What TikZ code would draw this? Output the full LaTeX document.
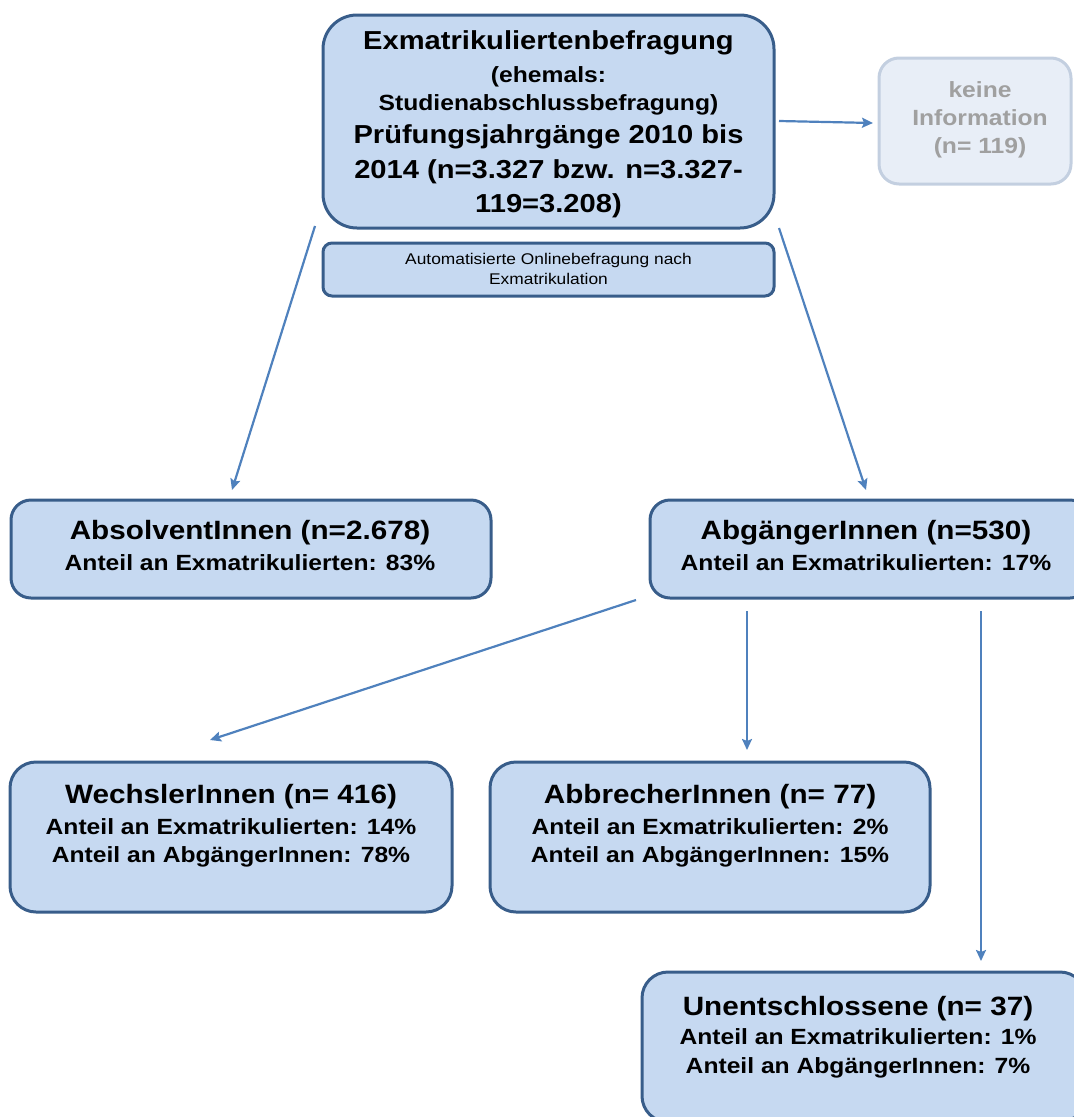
\documentclass[tikz,border=0pt]{standalone}
\usepackage{fontspec}
\setmainfont{Liberation Sans}[FakeStretch=1.12]
\usetikzlibrary{arrows.meta}
\definecolor{boxfill}{RGB}{198,217,241}
\definecolor{boxline}{RGB}{56,93,138}
\definecolor{arrowc}{RGB}{79,129,189}
\definecolor{fadefill}{RGB}{232,238,247}
\definecolor{fadeline}{RGB}{195,207,224}
\definecolor{fadetext}{RGB}{160,160,160}
\begin{document}
\begin{tikzpicture}[x=1pt,y=-1pt,
  box/.style={draw=boxline, fill=boxfill, line width=3pt, inner sep=0pt},
  fadebox/.style={draw=fadeline, fill=fadefill, line width=3pt, inner sep=0pt},
  t/.style={anchor=base, inner sep=0pt},
  big/.style={t, font=\fontsize{26}{30}\selectfont\bfseries},
  mid/.style={t, font=\fontsize{22}{26}\selectfont\bfseries},
  ttl/.style={t, font=\fontsize{26.5}{30}\selectfont\bfseries},
  sub/.style={t, font=\fontsize{22}{26}\selectfont\bfseries},
  small/.style={t, font=\fontsize{15.5}{18}\selectfont},
  fade/.style={t, text=fadetext, font=\fontsize{22}{26}\selectfont\bfseries},
  arr/.style={draw=arrowc, line width=2.2pt, -{Stealth[length=11pt,width=10pt,inset=2pt]}}]

\useasboundingbox (0,0) rectangle (1074,1117);

% boxes
\node[box, rounded corners=34pt, minimum width=451pt, minimum height=213pt] (top) at (548.5,121.5) {};
\node[box, rounded corners=9pt, minimum width=451pt, minimum height=53pt] (auto) at (548.5,269.5) {};
\node[fadebox, rounded corners=20pt, minimum width=192pt, minimum height=126pt] (keine) at (975,121) {};
\node[box, rounded corners=20pt, minimum width=480pt, minimum height=98pt] (absol) at (251,549) {};
\node[box, rounded corners=20pt, minimum width=440pt, minimum height=98pt] (abg) at (870,549) {};
\node[box, rounded corners=26pt, minimum width=442pt, minimum height=150pt] (wech) at (231,837) {};
\node[box, rounded corners=26pt, minimum width=440pt, minimum height=150pt] (abbr) at (710,837) {};
\node[box, rounded corners=26pt, minimum width=444pt, minimum height=150pt] (unent) at (864,1047) {};

% texts top box
\node[big] (top1) at (548.5,49) {Exmatrikuliertenbefragung};
\node[mid] (top2) at (548.5,82) {(ehemals:};
\node[mid] (top3) at (548.5,110) {Studienabschlussbefragung)};
\node[big] (top4) at (548.5,143) {Prüfungsjahrgänge 2010 bis};
\node[big] (top5) at (548.5,178) {2014 (n=3.327 bzw. n=3.327-};
\node[big] (top6) at (548.5,212) {119=3.208)};

\node[small] (auto1) at (548.5,264) {Automatisierte Onlinebefragung nach};
\node[small] (auto2) at (548.5,284) {Exmatrikulation};

\node[fade] (keine1) at (980,97) {keine};
\node[fade] (keine2) at (980,125) {Information};
\node[fade] (keine3) at (980,153) {(n= 119)};

\node[ttl] (absol1) at (250,539) {AbsolventInnen (n=2.678)};
\node[sub] (absol2) at (250,570) {Anteil an Exmatrikulierten: 83\%};

\node[ttl] (abg1) at (866,539) {AbgängerInnen (n=530)};
\node[sub] (abg2) at (866,570) {Anteil an Exmatrikulierten: 17\%};

\node[ttl] (wech1) at (231,803) {WechslerInnen (n= 416)};
\node[sub] (wech2) at (231,834) {Anteil an Exmatrikulierten: 14\%};
\node[sub] (wech3) at (231,862) {Anteil an AbgängerInnen: 78\%};

\node[ttl] (abbr1) at (710,803) {AbbrecherInnen (n= 77)};
\node[sub] (abbr2) at (710,834) {Anteil an Exmatrikulierten: 2\%};
\node[sub] (abbr3) at (710,862) {Anteil an AbgängerInnen: 15\%};

\node[ttl] (unent1) at (858,1015) {Unentschlossene (n= 37)};
\node[sub] (unent2) at (858,1044) {Anteil an Exmatrikulierten: 1\%};
\node[sub] (unent3) at (858,1073) {Anteil an AbgängerInnen: 7\%};

% arrow end points
\coordinate (s1) at (315,226);
\coordinate (e1) at (232,490);
\coordinate (s2) at (779,228);
\coordinate (e2) at (866,490);
\coordinate (s3) at (779,121);
\coordinate (e3) at (873,123);
\coordinate (s4) at (636,600);
\coordinate (e4) at (210,740);
\coordinate (s5) at (747,611);
\coordinate (e5) at (747,750);
\coordinate (s6) at (981,611);
\coordinate (e6) at (981,961);

\draw[arr] (s1) -- (e1);
\draw[arr] (s2) -- (e2);
\draw[arr] (s3) -- (e3);
\draw[arr] (s4) -- (e4);
\draw[arr] (s5) -- (e5);
\draw[arr] (s6) -- (e6);
\end{tikzpicture}
\end{document}
